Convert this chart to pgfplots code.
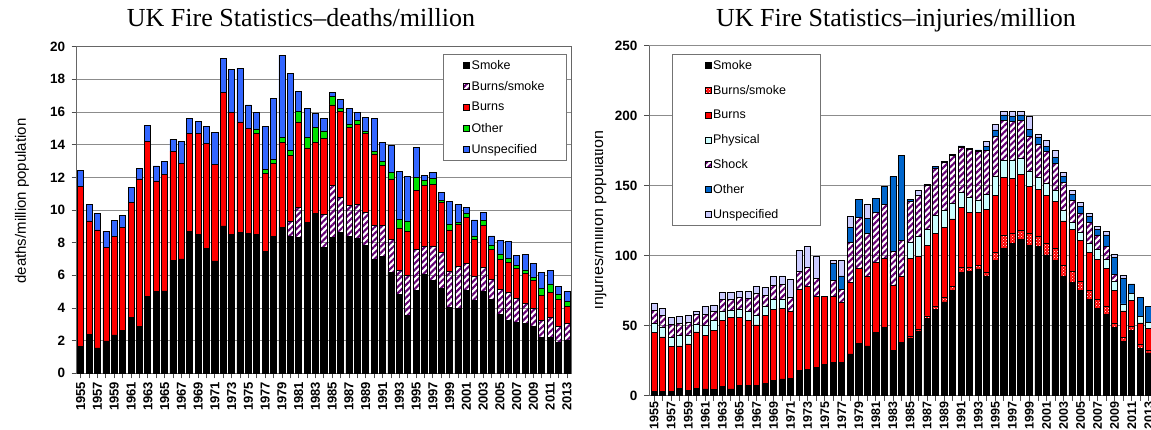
\documentclass[border=0pt]{standalone}
\usepackage{pgfplots}
\pgfplotsset{compat=1.18}
\usepackage{pgfplotstable}
\usetikzlibrary{patterns,patterns.meta}
\usepackage{fontspec}
\setmainfont{Liberation Serif}
\setsansfont{Liberation Sans}
\newfontfamily\arialf{Liberation Sans}

\definecolor{cred}{RGB}{255,0,0}
\definecolor{cgreen}{RGB}{0,225,0}
\definecolor{cblueL}{RGB}{51,102,255}
\definecolor{cpurple}{RGB}{100,0,115}
\definecolor{ccyan}{RGB}{204,255,255}
\definecolor{cblueR}{RGB}{0,102,204}
\definecolor{clav}{RGB}{204,204,255}
\definecolor{cgrid}{RGB}{140,140,140}

\pgfplotstableread{
x S BS B O U
0 1.63 0 9.8 0 0.97
1 2.4 0 6.93 0 1.02
2 1.55 0 7.23 0 1.0
3 1.98 0 5.72 0 1.0
4 2.35 0 6.05 0 0.97
5 2.6 0 6.34 0 0.73
6 3.43 0 7.02 0 0.95
7 2.86 0 9.04 0 0.63
8 4.7 0 9.52 0 0.98
9 5.0 0 6.78 0 0.92
10 5.04 0 7.16 0 0.8
11 6.9 0 6.7 0 0.73
12 7.0 0 5.86 0 1.34
13 8.7 0 6.0 0 0.93
14 8.5 0 6.2 0 0.7
15 7.65 0 6.43 0 1.02
16 6.88 0 5.92 0 1.93
17 9.02 0 8.2 0 2.08
18 8.49 0 7.51 0 2.63
19 8.63 0 6.76 0 3.3
20 8.57 0 6.45 0 1.41
21 8.49 0 6.2 0.27 1.0
22 7.47 0 4.77 0.27 2.59
23 8.37 0 4.49 0.26 3.72
24 8.94 0 5.2 0.29 5.06
25 8.37 0.96 4.0 0.3 4.74
26 8.31 1.83 5.25 0.65 1.2
27 9.22 0 4.58 0.65 1.77
28 9.8 0 4.32 0.94 0.86
29 7.69 2.04 4.64 0.47 0.79
30 8.33 3.18 4.92 0.51 0.28
31 8.61 2.17 5.28 0.14 0.58
32 8.37 1.9 4.77 0.2 0.98
33 8.27 2.08 4.89 0.27 0.47
34 7.82 2.02 4.85 0.15 0.85
35 6.98 2.1 4.35 0.14 2.02
36 7.14 1.94 3.63 0.25 1.18
37 6.18 2.02 3.7 0.39 1.67
38 4.84 1.49 2.57 0.53 2.94
39 3.53 2.49 2.69 0.62 2.71
40 5.1 2.51 3.59 0.78 1.84
41 6.06 1.7 3.77 0.29 0.28
42 5.71 2.09 3.77 0.37 0.37
43 5.2 2.21 3.04 0.16 0.47
44 4.02 2.2 2.56 0.36 1.37
45 3.96 2.57 2.57 0.12 1.11
46 5.08 1.65 2.82 0.23 0.36
47 4.45 1.51 2.24 0.21 0.98
48 5.0 1.49 2.59 0.29 0.49
49 4.53 1.23 1.83 0.27 0.55
50 3.61 1.53 1.84 0.33 0.81
51 3.22 1.72 1.86 0.24 1.06
52 3.14 1.43 1.84 0.22 0.57
53 3.06 1.21 1.83 0.23 0.96
54 2.86 1.12 1.69 0.19 0.87
55 2.2 1.07 1.49 0.42 0.98
56 2.2 1.23 1.51 0.53 0.82
57 1.88 1.02 1.61 0.33 0.49
58 2.04 1.02 1.04 0.29 0.63
}\deaths

\pgfplotstableread{
x S BS B P Sh O U
0 3 0 42 6.7 9.5 0 4.8
1 3 0 39 7.1 8.3 0 4.8
2 3 0 32 6.7 9.5 0 4.8
3 5 0 30.5 7.8 8.4 0 4.7
4 4 0 33 6.4 9 0 4.8
5 5 0 40.5 5.3 7.1 0 2.4
6 4.8 0 38 7.6 7.6 0 5.5
7 4.5 0 42.4 7.1 6.5 0 4.3
8 6.9 0 47.1 6.5 8.3 0 4.8
9 4.8 0 51.2 5.2 7.6 0 4.8
10 7.4 0 48.6 5.9 8.1 0 4.8
11 7.4 0 46.6 6 9.5 0 5
12 7.6 0 43 7 15.5 0 5.2
13 8.8 0 48.3 6.5 8.3 0 5.5
14 10.7 0 51 7 10.2 0 6
15 12 0 50.5 6 11 0 6
16 12.4 0 48 0 10 0 12.5
17 17.9 0 58.1 0 13 0 15
18 19 0 59.3 0 13.1 0 15.5
19 20.2 0 50.5 0 13.1 0 16
20 22.6 0 48.1 0 0 0 0
21 23.8 0 46.9 0 11.4 12.4 1.9
22 23.6 0 42.8 0 9.6 9.5 11.4
23 29.8 0 50.9 0 29.1 10.4 8.1
24 37.4 0 53.6 0 36.4 12.8 0
25 35.5 0 49.5 0 31 10.4 10.3
26 45 0 50.2 0 35.5 10.3 0
27 48.6 0 49.5 0 38.8 12.4 0
28 32.6 0 46.4 0 24.3 53.1 0
29 38.1 0 46.9 0 25.7 61.2 0
30 41 1.1 56 11.4 29.5 1.2 0
31 46 1.4 52.4 13.8 29.3 0 4
32 55 2 50.1 11.9 31 1 0
33 61.7 2.4 52 12.6 34 0.9 0
34 67 3 50 12.6 34 1 0
35 75.3 3 48 11.2 34 1 0
36 88 3.7 43 10.2 32.5 1 0
37 88.6 3.1 39.3 10.4 34.6 0.7 0
38 90.5 2.8 37.7 8.8 34.8 0.9 0
39 85.5 2.6 45.2 10.2 31.5 2.9 3.5
40 96.9 5.2 41.2 13.1 29.1 4.3 4.2
41 105.2 9.6 41.2 12.3 28.6 3.6 2.8
42 108.8 7.1 39.3 12.7 27.8 4.1 3.1
43 111.7 6.6 40 11.2 26.9 4.1 2.8
44 107.6 8.3 33.8 10.2 25 5.5 9.3
45 106.4 7.2 33.8 8.3 24.1 4.7 2.4
46 100.5 8.3 34.1 8.8 22.6 4 3.8
47 96.9 8.3 33.8 7.4 19.6 4.2 4.8
48 85 8.3 31.5 7.8 19.8 4 2.9
49 80.7 7.9 30.2 5 16 4.2 2.9
50 75 6.4 29.8 5.2 13.8 4.8 2.9
51 68.8 6.2 27.1 6.7 14.8 4.3 2.3
52 62.4 6.4 28.6 7.1 10.3 4 2.4
53 58.3 5.3 27.4 6.4 9.5 7.9 2.3
54 48.5 3.5 23 6.5 5 12.5 2.2
55 38.6 3.1 18.8 5 0 18.3 2.4
56 46.9 2.9 18.5 4.8 0 6.7 0
57 33.5 3 15.5 4.8 0 13.4 0
58 30.5 2 15.3 4.5 0 11.3 0
}\injuries

\pgfplotsset{
  firebase/.style={
    scale only axis,
    ybar stacked,
    bar width=0.72,
    ymin=0,
    ymajorgrids,
    grid style={cgrid, line width=0.9pt},
    xtick={0,2,...,58},
    minor xtick={1,3,...,57},
    xticklabels={1955,1957,1959,1961,1963,1965,1967,1969,1971,1973,1975,1977,1979,1981,1983,1985,1987,1989,1991,1993,1995,1997,1999,2001,2003,2005,2007,2009,2011,2013},
    x tick label style={rotate=90, anchor=east, font=\arialf\bfseries\fontsize{13}{13}\selectfont},
    y tick label style={font=\arialf\bfseries\fontsize{13.5}{14}\selectfont, xshift=-3pt},
    /pgf/number format/assume math mode=true,
    tick align=outside,
    major tick length=5pt,
    minor tick length=5pt,
    tick style={black!70, line width=0.8pt},
    xtick pos=bottom, ytick pos=left,
    axis line style={black!60, line width=1pt},
    legend cell align=left,
    legend image code/.code={\draw[#1, draw=black, line width=0.6pt] (0pt,-3pt) rectangle (6pt,3pt);},
    every axis plot/.append style={draw=black, line width=0.7pt},
  },
  hatchP/.style={pattern={Lines[angle=45,distance=4.5pt,line width=2.1pt]}, pattern color=cpurple},
}

\begin{document}
\begin{tikzpicture}
% ---------- left: deaths ----------
\begin{axis}[firebase,
  at={(76.7pt,56.7pt)}, anchor=south west,
  width=494.3pt, height=326.6pt,
  xmin=-0.48, xmax=58.48, ymax=20,
  ytick={0,2,...,20},
  legend style={at={(0.992,0.978)}, anchor=north east, draw=black!55, line width=0.8pt,
    font=\arialf\fontsize{12.5}{13}\selectfont, row sep=6.5pt, inner xsep=20pt, inner ysep=4pt},
]
\addplot[fill=black] table[x=x,y=S]{\deaths};
\addplot[hatchP] table[x=x,y=BS]{\deaths};
\addplot[fill=cred] table[x=x,y=B]{\deaths};
\addplot[fill=cgreen] table[x=x,y=O]{\deaths};
\addplot[fill=cblueL] table[x=x,y=U]{\deaths};
\legend{Smoke,Burns/smoke,Burns,Other,Unspecified}
\end{axis}

% ---------- right: injuries ----------
\begin{axis}[firebase,
  at={(649pt,34.3pt)}, anchor=south west,
  width=502pt, height=350pt,
  xmin=-0.6, xmax=58.26, ymax=250,
  ytick={0,50,...,250},
  axis x line*=bottom, axis y line*=left,
  x tick label style={font=\arialf\bfseries\fontsize{12.5}{12.5}\selectfont, inner sep=1pt},
  legend style={at={(0.046,0.976)}, anchor=north west, draw=black!55, line width=0.8pt,
    font=\arialf\fontsize{12.5}{13}\selectfont, row sep=10.3pt, inner xsep=32pt, inner ysep=4pt},
]
\addplot[fill=black] table[x=x,y=S]{\injuries};
\addplot[fill=cred, postaction={pattern=crosshatch dots, pattern color=white}] table[x=x,y=BS]{\injuries};
\addplot[fill=cred] table[x=x,y=B]{\injuries};
\addplot[fill=ccyan] table[x=x,y=P]{\injuries};
\addplot[hatchP] table[x=x,y=Sh]{\injuries};
\addplot[fill=cblueR] table[x=x,y=O]{\injuries};
\addplot[fill=clav] table[x=x,y=U]{\injuries};
\legend{Smoke,Burns/smoke,Burns,Physical,Shock,Other,Unspecified}
\end{axis}

% titles and axis labels
\node[anchor=base, font=\fontsize{26}{27}\selectfont] at (301pt,403pt) {UK Fire Statistics--deaths/million};
\node[anchor=base, font=\fontsize{26}{27}\selectfont] at (896pt,403pt) {UK Fire Statistics--injuries/million};
\node[rotate=90, font=\arialf\fontsize{15}{16}\selectfont] at (22pt,229pt) {deaths/million population};
\begin{scope}
\clip (595pt,0pt) rectangle (612pt,430pt);
\node[rotate=90, anchor=base, inner sep=0pt, font=\arialf\fontsize{16}{17}\selectfont] at (603pt,210pt) {injuries/million population};
\end{scope}

\pgfresetboundingbox
\useasboundingbox (0pt,0pt) rectangle (1151pt,430pt);
\end{tikzpicture}
\end{document}
